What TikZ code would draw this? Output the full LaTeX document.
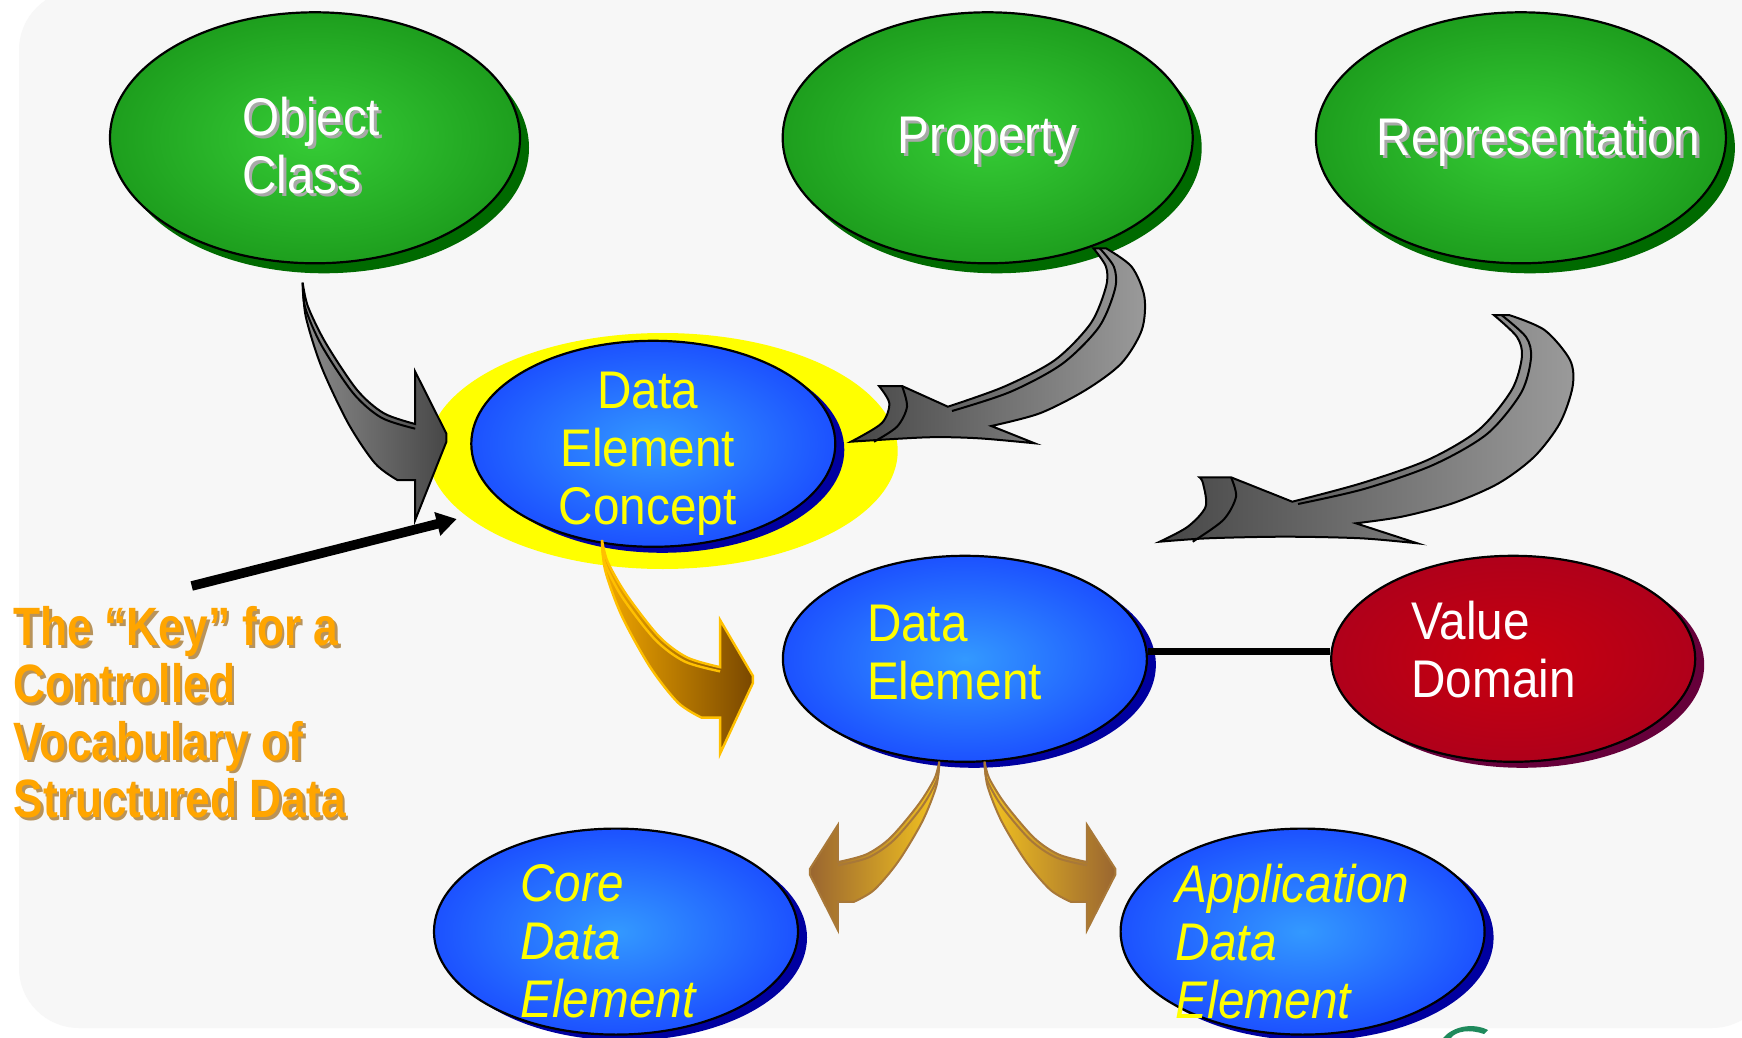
\documentclass[tikz,border=0pt]{standalone}
\usepackage{fontspec}
\setmainfont{Liberation Sans}
\newfontfamily\labfont[FakeStretch=0.9]{Liberation Sans}
\newfontfamily\keyfont[FakeStretch=0.82]{Liberation Sans}
\usetikzlibrary{shapes.geometric,arrows.meta,shadows}

\definecolor{bgc}{HTML}{F7F7F7}
\definecolor{gin}{HTML}{36CC36}
\definecolor{gout}{HTML}{0A7A0A}
\definecolor{gsh}{HTML}{006A00}
\definecolor{bin}{HTML}{3399FF}
\definecolor{bout}{HTML}{0A18FF}
\definecolor{bsh}{HTML}{0000A0}
\definecolor{rin}{HTML}{C8000E}
\definecolor{rout}{HTML}{9C0024}
\definecolor{rsh}{HTML}{66003A}
\definecolor{halo}{HTML}{FFFF00}
\definecolor{ytxt}{HTML}{FFFF00}
\definecolor{tsh}{HTML}{A8A8A8}
\definecolor{keyor}{HTML}{FFA500}
\definecolor{keysh}{HTML}{B8935A}
\definecolor{gdk}{HTML}{474747}
\definecolor{glt}{HTML}{9A9A9A}
\definecolor{ogold}{HTML}{F2A800}
\definecolor{obrown}{HTML}{7A4800}
\definecolor{oline}{HTML}{FFC000}
\definecolor{ygold}{HTML}{F4C420}
\definecolor{ybrown}{HTML}{9A6630}
\definecolor{yline}{HTML}{A87838}
\definecolor{logo}{HTML}{1F8A5C}

\pgfdeclareradialshading{greenball}{\pgfpoint{0bp}{0bp}}{color(0bp)=(gin); color(45bp)=(gout); color(50bp)=(gout)}
\pgfdeclareradialshading{blueball}{\pgfpoint{0bp}{0bp}}{color(0bp)=(bin); color(45bp)=(bout); color(50bp)=(bout)}
\pgfdeclareradialshading{redball}{\pgfpoint{0bp}{0bp}}{color(0bp)=(rin); color(45bp)=(rout); color(50bp)=(rout)}

\tikzset{
  ellbase/.style={ellipse, draw=black, line width=1.1pt, inner sep=0pt},
  greenell/.style={ellbase, shade, shading=greenball, minimum width=205pt, minimum height=125.5pt,
     drop shadow={shadow xshift=4.5pt, shadow yshift=-5pt, fill=gsh, opacity=1}},
  blueell/.style={ellbase, shade, shading=blueball, minimum width=182pt, minimum height=103pt,
     drop shadow={shadow xshift=4.5pt, shadow yshift=-3pt, fill=bsh, opacity=1}},
  redell/.style={ellbase, shade, shading=redball, minimum width=182pt, minimum height=103pt,
     drop shadow={shadow xshift=4.5pt, shadow yshift=-3pt, fill=rsh, opacity=1}},
  lab/.style={font=\labfont\fontsize{26.5pt}{29pt}\selectfont, inner sep=0pt, align=left},
  ilab/.style={font=\labfont\itshape\fontsize{26.5pt}{29pt}\selectfont, inner sep=0pt, align=left},
  keylab/.style={font=\keyfont\bfseries\fontsize{27pt}{28.7pt}\selectfont, inner sep=0pt, align=left},
  arrline/.style={draw=black, line width=1pt},
}

\begin{document}
\begin{tikzpicture}[x=0.5pt,y=-0.5pt]
\useasboundingbox (0,0) rectangle (1742,1038);
\fill[white] (0,0) rectangle (1742,1038);
\fill[bgc, rounded corners=30pt] (19,-10) rectangle (1772,1028);

% logo fragment
\fill[logo] (1443,1038) .. controls (1452,1027) and (1472,1022) .. (1488,1030) -- (1484,1034) .. controls (1470,1029) and (1456,1031) .. (1451,1038) -- cycle;

% top ellipses
\node[greenell] (oc) at (315,137.8) {};
\node[greenell] (prop) at (987.7,137.8) {};
\node[greenell] (rep) at (1520.9,137.8) {};

% data element concept with halo
\node[ellipse, fill=halo, inner sep=0pt, minimum width=235pt, minimum height=118pt] (halo) at (662.7,451) {};
\node[blueell] (dec) at (653.3,443.8) {};

% data element, value domain
\node[blueell] (de) at (964.9,658.8) {};
\node[redell] (vd) at (1513.2,658.8) {};
\draw[line width=3.5pt] (de.east |- 0,651) -- (vd.west |- 0,651);

% bottom ellipses
\node[blueell] (core) at (616,931.6) {};
\node[blueell] (app) at (1302.6,931.6) {};

% black key arrow
\coordinate (kstart) at (191.7,586);
\coordinate (kend) at (456.7,519);
\draw[line width=4.8pt, -{Triangle[length=10pt,width=11.5pt]}] (kstart) -- (kend);

% gray arrow: Object Class -> DEC
\begin{scope}[shift={(302.7,282.7)}]
\path[arrline, left color=glt!90!black, right color=gdk]
  plot[smooth] coordinates {(0,0) (5.3,24) (23.2,60.6) (54.4,107.3) (81.2,130.6) (112.5,141.3)}
  -- (112.5,89) -- (143.7,151) -- (143.7,159) -- (112.5,237.3) -- (112.5,197.3)
  -- plot[smooth] coordinates {(94.6,197.3) (72.3,180.6) (45.5,140.6) (18.7,84) (3.1,34) (0,0)} -- cycle;
\draw[line width=1pt] plot[smooth] coordinates {(0,0) (2.5,25) (19,63) (50.5,110.5) (78.7,135) (112.5,146)};
\end{scope}

% gray arrow: Property -> DEC
\path[arrline, left color=gdk, right color=glt]
  (1093.4,248.3) -- (1106,248.3)
  -- plot[smooth] coordinates {(1106,248.3) (1131.6,266.7) (1144.4,296.7) (1141.8,330) (1121.4,363.3) (1085.7,390) (1039.8,413.3) (991.3,426)}
  -- (1034.6,443.3)
  -- plot[smooth] coordinates {(1034.6,443.3) (978.6,438.3) (927.6,437.3) (851,441.7)}
  -- plot[smooth] coordinates {(851,441.7) (881.6,423.3) (889.3,403.3) (879,386)}
  -- (902,386) -- (947.9,406.7)
  -- plot[smooth] coordinates {(947.9,406.7) (1004,386.7) (1055,360) (1090.8,323.3) (1106,286.7) (1106,266.7) (1093.4,248.3)}
  -- cycle;
\draw[line width=1pt] plot[smooth] coordinates {(1099.7,248.3) (1114,267) (1115,289) (1099,327) (1062,364) (1010,392) (952,411)};
\draw[line width=1pt] plot[smooth] coordinates {(902,386) (907,406.7) (897,426.7) (874,441.7)};

% gray arrow: Representation -> Data Element
\path[arrline, left color=gdk, right color=glt]
  (1493.8,315) -- (1509,315)
  -- plot[smooth] coordinates {(1509,315) (1544.5,330) (1570,360) (1572.6,386.7) (1559.8,423.3) (1534.3,456.7) (1498.6,483.3) (1452.7,503.3) (1401.7,516.7) (1355.9,523.3)}
  -- (1417.3,543.3)
  -- plot[smooth] coordinates {(1417.3,543.3) (1361,538.3) (1284.7,536.7) (1208,538.3) (1159.7,541.7)}
  -- plot[smooth] coordinates {(1159.7,541.7) (1187.8,526.7) (1205.6,506.7) (1203,483.3) (1199.5,477.3)}
  -- (1231,477.3) -- (1292.3,501.7)
  -- plot[smooth] coordinates {(1292.3,501.7) (1361.2,483.3) (1427.6,460) (1478.6,430) (1511.7,390) (1521.9,356.7) (1516.8,336.7) (1493.8,315)}
  -- cycle;
\draw[line width=1pt] plot[smooth] coordinates {(1501.4,315) (1526,337) (1531,358) (1521,393) (1487,434) (1433,465) (1364,489) (1298,504)};
\draw[line width=1pt] plot[smooth] coordinates {(1231,477.3) (1236,496.7) (1223.3,520) (1192.7,541.7)};

% orange arrow: DEC -> Data Element
\begin{scope}[shift={(602,540)}, xscale=1.05, yscale=0.9]
\path[draw=oline, line width=1.2pt, left color=ogold, right color=obrown]
  plot[smooth] coordinates {(0,0) (5.3,24) (23.2,60.6) (54.4,107.3) (81.2,130.6) (112.5,141.3)}
  -- (112.5,89) -- (143.7,151) -- (143.7,159) -- (112.5,237.3) -- (112.5,197.3)
  -- plot[smooth] coordinates {(94.6,197.3) (72.3,180.6) (45.5,140.6) (18.7,84) (3.1,34) (0,0)} -- cycle;
\draw[oline, line width=1.2pt] plot[smooth] coordinates {(0,0) (2.5,25) (19,63) (50.5,110.5) (78.7,135) (112.5,146)};
\end{scope}

% gold arrow: Data Element -> Core
\begin{scope}[shift={(939.2,761.7)}, xscale=-0.9, yscale=0.71]
\path[draw=yline, line width=1pt, left color=ybrown, right color=ygold]
  plot[smooth] coordinates {(0,0) (5.3,24) (23.2,60.6) (54.4,107.3) (81.2,130.6) (112.5,141.3)}
  -- (112.5,89) -- (143.7,151) -- (143.7,159) -- (112.5,237.3) -- (112.5,197.3)
  -- plot[smooth] coordinates {(94.6,197.3) (72.3,180.6) (45.5,140.6) (18.7,84) (3.1,34) (0,0)} -- cycle;
\draw[yline, line width=1pt] plot[smooth] coordinates {(0,0) (2.5,25) (19,63) (50.5,110.5) (78.7,135) (112.5,146)};
\end{scope}

% gold arrow: Data Element -> Application
\begin{scope}[shift={(984.6,761.7)}, xscale=0.91, yscale=0.71]
\path[draw=yline, line width=1pt, left color=ygold, right color=ybrown]
  plot[smooth] coordinates {(0,0) (5.3,24) (23.2,60.6) (54.4,107.3) (81.2,130.6) (112.5,141.3)}
  -- (112.5,89) -- (143.7,151) -- (143.7,159) -- (112.5,237.3) -- (112.5,197.3)
  -- plot[smooth] coordinates {(94.6,197.3) (72.3,180.6) (45.5,140.6) (18.7,84) (3.1,34) (0,0)} -- cycle;
\draw[yline, line width=1pt] plot[smooth] coordinates {(0,0) (2.5,25) (19,63) (50.5,110.5) (78.7,135) (112.5,146)};
\end{scope}

% texts
\node[lab, text=tsh, anchor=north west] (ocs) at (245,99.5) {Object\\Class};
\node[lab, text=white, anchor=north west] (oct) at (242,96.5) {Object\\Class};
\node[lab, text=tsh, anchor=north] (props) at (990.7,119.5) {Property};
\node[lab, text=white, anchor=north] (propt) at (987.7,116.5) {Property};
\node[lab, text=tsh, anchor=north] (reps) at (1541.7,119.5) {Representation};
\node[lab, text=white, anchor=north] (rept) at (1538.7,116.5) {Representation};

\node[lab, align=center, text=ytxt, anchor=north] (dect) at (647.7,372) {Data\\Element\\Concept};
\node[lab, text=ytxt, anchor=north west] (det) at (866.6,604.3) {Data\\Element};
\node[lab, text=white, anchor=north west] (vdt) at (1411,601) {Value\\Domain};
\node[ilab, text=ytxt, anchor=north west] (coret) at (520,864) {Core\\Data\\Element};
\node[ilab, text=ytxt, anchor=north west] (appt) at (1175.5,864) {Application\\Data\\Element};

\node[keylab, text=keysh, anchor=north west] (keys) at (16,608.5) {The “Key” for a\\Controlled\\Vocabulary of\\Structured Data};
\node[keylab, text=keyor, anchor=north west] (keyt) at (13.3,606) {The “Key” for a\\Controlled\\Vocabulary of\\Structured Data};
\end{tikzpicture}
\end{document}
